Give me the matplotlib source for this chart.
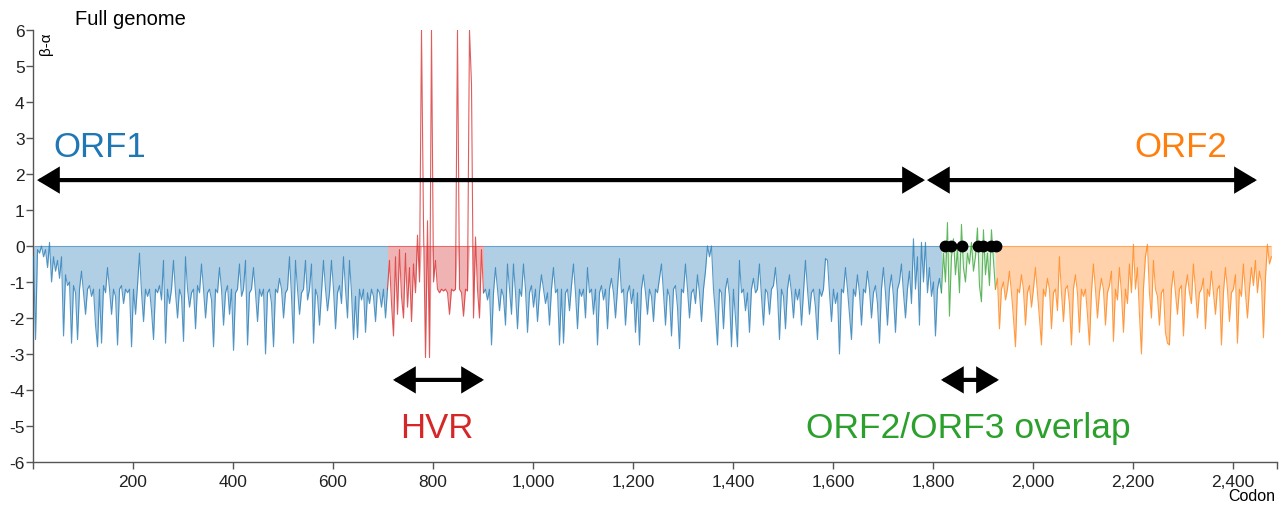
import numpy as np
import matplotlib.pyplot as plt
from matplotlib.patches import FancyArrowPatch

# beta - alpha, one value every 4 codons
STEP = 4

orf1a_start = 1
orf1a = [
    -0.3, -2.6, -0.1, -0.2, 0.0, -0.3, -0.1, -0.6, 0.1, -1.0,
    -0.3, -0.7, -0.4, -0.9, -0.3, -2.5, -0.8, -1.1, -1.0, -2.7,
    -1.1, -1.3, -2.6, -1.2, -0.7, -1.3, -1.9, -1.2, -1.1, -1.4,
    -1.2, -2.2, -2.8, -1.2, -2.7, -1.1, -1.3, -0.6, -1.2, -1.9,
    -1.2, -1.4, -2.75, -1.2, -1.1, -1.6, -1.2, -1.3, -1.2, -2.8,
    -1.2, -1.9, -1.1, -0.2, -1.3, -2.1, -1.2, -1.4, -1.2, -1.8,
    -2.6, -1.2, -1.3, -1.1, -1.5, -0.4, -2.7, -1.2, -1.6, -1.2,
    -0.4, -1.3, -2.0, -1.2, -1.4, -2.65, -0.3, -1.2, -1.7, -1.3,
    -1.2, -2.3, -1.1, -1.3, -0.5, -1.2, -2.0, -1.3, -1.2, -1.5,
    -2.8, -1.2, -1.3, -0.6, -1.2, -2.2, -1.3, -1.1, -1.9, -1.2,
    -2.9, -1.3, -1.2, -0.5, -1.4, -1.2, -0.4, -2.75, -1.3, -1.2,
    -0.6, -1.3, -2.1, -1.2, -1.4, -1.2, -3.0, -1.3, -1.2, -1.6,
    -2.8, -1.2, -1.3, -0.9, -1.2, -2.0, -1.3, -1.2, -0.3, -1.4,
    -2.7, -0.4, -1.2, -1.9, -1.3, -1.2, -0.4, -1.5, -1.2, -0.5,
    -2.7, -1.2, -1.4, -2.2, -1.3, -0.4, -1.2, -1.8, -1.3, -0.4,
    -1.2, -2.3, -1.3, -1.1, -1.6, -0.3, -1.2, -2.0, -0.4, -1.3,
    -2.6, -1.4, -2.55, -1.2, -1.5, -1.2, -2.4, -1.3, -1.6, -1.2,
    -1.4, -2.1, -1.2, -1.3, -1.7, -1.2, -2.0, -1.2,
]

hvr_start = 709
hvr = [
    -1.2, -0.4, -1.6, -2.5, -0.3, -1.9, -0.1, -1.4, -2.0, -0.2,
    -1.7, -0.6, -2.1, -0.5, -1.3, 0.3, -1.0, 6.0, 0.6, -3.1,
    0.7, -3.1, 6.0, -1.0, -0.4, -1.2, -1.3, -1.2, -1.25, -1.2,
    -1.3, -1.9, -1.2, -1.25, -1.2, 6.0, -1.2, -1.3, -1.95, -1.2,
    -1.25, 6.0, 4.5, -2.0, 0.25, -1.2, -2.0, -0.1, -1.3,
]

orf1b_start = 901
orf1b = [
    -1.3, -1.2, -1.5, -1.2, -2.75, -1.3, -0.6, -1.2, -1.8, -1.2,
    -1.4, -2.2, -0.5, -1.2, -1.9, -0.5, -1.3, -2.3, -1.2, -1.4,
    -0.5, -1.2, -2.4, -1.3, -1.1, -1.7, -1.2, -2.1, -1.3, -0.8,
    -1.2, -1.6, -1.3, -2.2, -1.2, -0.6, -1.3, -1.2, -2.75, -1.2,
    -2.7, -1.3, -1.2, -1.8, -1.1, -0.5, -1.3, -2.3, -1.2, -1.4,
    -1.2, -2.0, -0.6, -1.3, -1.2, -1.9, -1.2, -2.75, -1.3, -1.1,
    -1.5, -1.2, -2.3, -1.2, -0.9, -1.3, -2.0, -1.2, -0.35, -1.3,
    -1.2, -2.2, -1.3, -1.1, -1.6, -1.2, -2.4, -1.3, -2.75, -1.2,
    -0.8, -1.3, -1.9, -1.2, -1.4, -2.1, -1.2, -1.3, -0.9, -0.5,
    -1.3, -2.2, -1.2, -1.4, -2.5, -1.2, -1.1, -1.7, -2.85, -1.2,
    -1.3, -0.5, -1.2, -2.0, -1.3, -1.2, -1.6, -0.8, -1.3, -2.1,
    -1.2, -0.7, 0.0, -0.3, 0.0, -1.2, -1.9, -2.75, -1.2, -1.3,
    -2.3, -1.2, -0.9, -1.4, -2.8, -1.2, -2.0, -2.8, -0.4, -1.3,
    -1.2, -1.8, -1.3, -2.4, -1.2, -0.9, -1.3, -1.2, -0.5, -1.4,
    -2.2, -1.2, -1.3, -1.9, -1.2, -1.1, -0.6, -1.3, -2.6, -1.2,
    -1.4, -2.3, -1.2, -0.8, -1.3, -2.0, -1.2, -1.5, -1.2, -2.2,
    -1.3, -0.4, -1.2, -1.9, -1.3, -1.2, -1.7, -2.6, -1.2, -1.4,
    -1.2, -0.35, -0.4, -1.3, -2.1, -1.2, -1.6, -1.3, -3.0, -1.2,
    -1.3, -0.6, -1.2, -1.9, -2.6, -1.2, -1.4, -0.8, -1.3, -2.2,
    -1.2, -1.3, -0.7, -1.2, -2.0, -1.3, -1.1, -1.6, -2.7, -1.2,
    -0.6, -1.3, -2.2, -1.2, -0.8, -1.4, -2.4, -1.2, -1.0, -0.5,
    -1.3, -2.0, -1.2, -0.7, -1.6, 0.2, -1.2, -0.3, -2.2, 0.1,
    -1.0, 0.1, -1.3, -0.6, -1.4, -1.0, -2.5, -1.2, -0.9, -1.3,
]

overlap_start = 1817
overlap = [
    -1.3, -0.2, -1.0, 0.65, -1.95, -0.3, 0.2, -0.8, -0.1, -1.3,
    0.6, -0.6, -1.0, -0.2, -0.5, 0.1, -0.7, -0.3, 0.5, -1.1,
    -1.55, 0.45, -0.8, -0.2, -1.1, 0.45, -0.4, -1.2,
]

orf2_start = 1925
orf2 = [
    -1.2, -0.9, -2.3, -1.2, -1.0, -1.5, -1.2, -0.7, -1.3, -2.0,
    -2.8, -1.2, -1.3, -0.8, -1.2, -2.2, -1.3, -1.1, -1.7, -1.2,
    -0.6, -1.3, -2.0, -2.75, -1.2, -1.4, -0.9, -1.2, -2.3, -1.3,
    -1.2, -1.8, -0.3, -1.3, -2.1, -1.2, -1.1, -1.6, -2.75, -1.2,
    -0.8, -1.3, -2.4, -1.2, -1.4, -1.2, -1.9, -2.75, -1.3, -0.5,
    -1.2, -2.0, -1.3, -0.9, -1.2, -2.2, -1.3, -1.1, -0.7, -2.65,
    -1.2, -1.5, -0.6, -1.3, -2.4, -1.2, -1.6, -0.5, -1.3, 0.05,
    -1.2, -0.6, -1.9, -3.0, -1.2, -0.3, 0.05, -1.3, -2.0, -0.4,
    -1.2, -1.4, -2.2, -1.3, -1.2, -2.4, -2.7, -2.75, -1.2, -0.7,
    -1.3, -1.9, -1.2, -1.1, -2.5, -1.2, -0.8, -1.3, -1.6, -0.5,
    -1.2, -2.0, -1.3, -1.2, -0.9, -2.3, -1.2, -1.4, -0.7, -1.3,
    -1.9, -1.2, -1.1, -2.75, -1.3, -0.6, -1.2, -2.1, -1.3, -1.2,
    -0.8, -2.7, -1.2, -1.4, -0.5, -1.3, -2.0, -1.2, -0.6, -1.1,
    -0.4, -1.3, -0.7, -1.0, -2.55, -0.9, 0.05, -0.5, -0.3,
]

# black dots sitting on the zero line in the ORF2/ORF3 overlap
overlap_dots = [1824, 1836, 1858, 1890, 1900, 1916, 1926]

# arrows (codon spans)
orf1_span = (8, 1784)
orf2_span = (1788, 2448)
hvr_span = (720, 902)
overlap_span = (1816, 1932)

x_ticks = [200, 400, 600, 800, 1000, 1200, 1400, 1600, 1800, 2000, 2200, 2400]
y_ticks = [-6, -5, -4, -3, -2, -1, 0, 1, 2, 3, 4, 5, 6]

BLUE = '#1f77b4'
RED = '#d62728'
GREEN = '#2ca02c'
ORANGE = '#ff7f0e'


def draw_segment(ax, start, vals, color, fill_alpha=0.35):
    x = np.arange(start, start + STEP * len(vals), STEP)
    y = np.array(vals)
    # shading only goes down from the zero line
    ax.fill_between(x, 0, np.minimum(y, 0), color=color, alpha=fill_alpha, lw=0, zorder=1)
    ax.hlines(0, x[0], x[-1], color=color, lw=0.8, alpha=0.6, zorder=2)
    ax.plot(x, y, color=color, lw=0.8, alpha=0.75, zorder=3)


def add_arrow(ax, span, y, lw=3.0, ms=20):
    arr = FancyArrowPatch((span[0], y), (span[1], y),
                          arrowstyle='<|-|>,head_length=0.6,head_width=0.36',
                          mutation_scale=ms, lw=lw, color='k', joinstyle='miter',
                          shrinkA=0, shrinkB=0, zorder=6, clip_on=False)
    ax.add_patch(arr)


def main():
    plt.rcParams['font.family'] = ['Liberation Sans', 'DejaVu Sans']
    plt.rcParams['axes.unicode_minus'] = False
    fig = plt.figure(figsize=(12.8, 5.1), dpi=100)
    ax = fig.add_axes([0.0258, 0.0922, 0.9718, 0.8471])

    draw_segment(ax, orf1a_start, orf1a, BLUE)
    draw_segment(ax, hvr_start, hvr, RED)
    draw_segment(ax, orf1b_start, orf1b, BLUE)
    draw_segment(ax, overlap_start, overlap, GREEN, fill_alpha=0.15)
    draw_segment(ax, orf2_start, orf2, ORANGE)

    ax.plot(overlap_dots, [0] * len(overlap_dots), 'o', color='k', ms=7.5, zorder=7)

    add_arrow(ax, orf1_span, 1.83)
    add_arrow(ax, orf2_span, 1.83)
    add_arrow(ax, hvr_span, -3.72)
    add_arrow(ax, overlap_span, -3.72)

    ax.text(134, 2.75, 'ORF1', color=BLUE, fontsize=25, ha='center', va='center')
    ax.text(2296, 2.75, 'ORF2', color=ORANGE, fontsize=25, ha='center', va='center')
    ax.text(808, -5.03, 'HVR', color=RED, fontsize=25, ha='center', va='center')
    ax.text(1870, -5.03, 'ORF2/ORF3 overlap', color=GREEN, fontsize=25.5,
            ha='center', va='center')

    ax.text(0.0338, 1.014, 'Full genome', transform=ax.transAxes, fontsize=14.5,
            ha='left', va='baseline')
    ax.text(0.0105, 0.97, 'β-α', transform=ax.transAxes, fontsize=11,
            rotation=90, ha='center', va='center')
    fig.text(0.9965, 0.0255, 'Codon', fontsize=11.5, ha='right', va='center')

    ax.set_xlim(0, 2488)
    ax.set_ylim(-6, 6)
    ax.set_xticks([0] + x_ticks + [2488])
    ax.set_xticklabels([''] + [f'{t:,}' for t in x_ticks] + [''])
    ax.set_yticks(y_ticks)
    ax.tick_params(axis='both', labelsize=12.5, colors='#555555', labelcolor='#222222',
                   length=5, width=1.0)
    ax.tick_params(axis='y', pad=1)
    ax.tick_params(axis='x', pad=4)

    for spine in ('right', 'top'):
        ax.spines[spine].set_visible(False)
    for spine in ('left', 'bottom'):
        ax.spines[spine].set_color('#555555')
        ax.spines[spine].set_linewidth(1.0)

    fig.savefig('out.png', dpi=100)
    return 0


if __name__ == '__main__':
    main()
